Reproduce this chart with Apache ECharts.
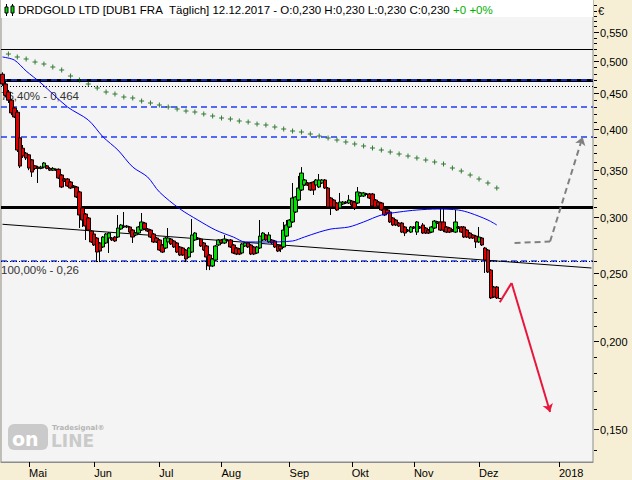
<!DOCTYPE html>
<html><head><meta charset="utf-8">
<script src="https://cdn.jsdelivr.net/npm/echarts@6/dist/echarts.min.js"></script>
<style>html,body{margin:0;padding:0;background:#f6efd6}#c{width:632px;height:480px}</style>
</head><body><div id="c"></div>
<script>
const FONT = '"Liberation Sans", Arial, sans-serif';
// ---- calendar ----
const startDate = '2017-04-18';
const lastTradeDate = '2017-12-12';
const holidays = ['2017-05-01', '2017-10-03'];
const futureDays = 31;
const monthNames = ['', 'Jan', 'Feb', 'Mär', 'Apr', 'Mai', 'Jun', 'Jul', 'Aug', 'Sep', 'Okt', 'Nov', 'Dez'];

// ---- OHLC (EUR) ----
const candleOpen = [.479,.464,.452,.440,.429,.423,.389,.376,.370,.368,.362,.355,.3535,.352,.3535,.355,.352,.350,.351,.351,.3445,.340,.340,.3367,.3323,.3312,.3259,.3092,.3032,.2993,.2868,.2840,.2803,.2758,.2722,.2758,.2803,.2803,.2812,.2812,.2887,.2915,.2906,.2906,.2877,.2831,.2849,.2877,.2944,.2887,.2877,.2840,.2803,.2785,.2740,.2713,.2767,.2794,.2776,.2758,.2722,.2713,.2695,.2634,.2677,.2785,.2803,.2794,.2758,.2731,.2651,.2558,.2608,.2740,.2785,.2758,.2785,.2785,.2740,.2713,.2704,.2669,.2731,.2758,.2740,.2722,.2669,.2713,.2785,.2831,.2767,.2785,.2776,.2740,.2731,.2722,.2821,.2906,.2954,.3052,.3174,.3280,.3334,.3356,.3356,.3367,.3334,.3312,.3356,.3389,.3301,.3195,.3174,.3143,.3092,.3133,.3153,.3143,.3164,.3153,.3143,.3216,.3216,.3237,.3237,.3237,.3174,.3153,.3143,.3082,.3072,.3052,.2993,.2973,.2944,.2944,.2906,.2877,.2858,.2906,.2858,.2906,.2925,.2896,.2877,.2858,.2896,.2944,.2954,.2954,.2906,.2896,.2877,.2858,.2906,.2906,.2906,.2877,.2849,.2831,.2821,.2767,.2803,.2713,.2695,.2524,.2388,.2388,.230];
const candleHigh = [.482,.467,.455,.442,.430,.426,.391,.380,.3714,.369,.363,.356,.355,.355,.3594,.356,.3535,.3535,.352,.352,.3456,.3411,.341,.3378,.3334,.3323,.327,.3102,.3042,.3002,.2877,.2849,.2812,.2767,.2821,.2849,.2858,.2812,.2821,.3022,.2935,.3052,.2925,.2915,.2887,.2858,.2915,.3042,.2954,.2896,.2887,.2849,.2812,.2794,.2749,.2812,.2896,.2803,.2785,.2767,.2731,.2722,.2704,.2722,.2983,.2858,.2812,.2803,.2767,.2740,.2660,.2625,.2740,.2794,.2794,.2831,.2794,.2794,.2749,.2722,.2713,.2758,.2767,.2767,.2749,.2731,.2731,.2973,.2858,.2840,.2858,.2794,.2785,.2749,.2740,.2954,.2973,.2983,.3356,.3216,.3434,.3535,.340,.3367,.3367,.3378,.340,.3456,.340,.340,.3312,.3206,.3184,.3153,.3248,.3164,.3164,.3227,.3174,.3164,.3312,.3259,.3259,.3248,.3248,.3248,.3184,.3164,.3153,.3092,.3082,.3062,.3002,.2983,.2954,.2954,.2915,.2887,.2915,.2915,.2963,.2915,.2944,.2906,.2887,.2915,.2973,.2963,.3092,.3092,.2915,.2906,.2887,.3072,.2915,.2915,.2915,.2887,.2858,.2840,.2831,.2906,.2812,.2722,.2704,.2532,.2396,.2396,.230];
const candleLow = [.461,.444,.436,.419,.415,.3714,.3524,.3642,.3618,.350,.3423,.350,.3356,.351,.352,.351,.349,.349,.349,.340,.3301,.3367,.3312,.329,.330,.3195,.2896,.2906,.2785,.2868,.2758,.2731,.2591,.2591,.2713,.2749,.2669,.2776,.2767,.2803,.2877,.2896,.2896,.2849,.2758,.2821,.2840,.2868,.2877,.2858,.2803,.2758,.2758,.2686,.2669,.2704,.2758,.2740,.2713,.2669,.2643,.2643,.2591,.2625,.2669,.2776,.2785,.2722,.2686,.2524,.2524,.2549,.2600,.2731,.2749,.2749,.2776,.2713,.2660,.2651,.2651,.2660,.2722,.2713,.2651,.2651,.2660,.2704,.2776,.2776,.2758,.2749,.2713,.2677,.2677,.2713,.2812,.2896,.2944,.3042,.3164,.3269,.3323,.3323,.3269,.3227,.3323,.3301,.3345,.329,.3092,.3022,.3092,.3062,.3082,.3122,.3133,.3133,.3112,.3072,.3133,.3206,.3206,.3227,.3184,.3102,.3092,.3102,.3062,.3012,.3032,.2944,.2915,.2915,.2906,.2849,.2821,.2858,.2849,.2887,.2831,.2887,.2840,.2840,.2840,.2849,.2887,.2935,.2868,.2858,.2849,.2849,.2858,.2849,.2887,.2849,.2803,.2803,.2794,.2794,.2713,.2758,.2731,.2500,.2500,.2296,.2304,.2296,.230];
const candleClose = [.464,.447,.440,.422,.4165,.3738,.3547,.3666,.3642,.3524,.3478,.352,.352,.3535,.3583,.352,.350,.352,.350,.3411,.3312,.3378,.3323,.3301,.3312,.3206,.3022,.2973,.2915,.2877,.2767,.2740,.2677,.2686,.2812,.2840,.2849,.2785,.2776,.2896,.2925,.2906,.2915,.2858,.2812,.2849,.2906,.2954,.2887,.2868,.2812,.2767,.2767,.2695,.2677,.2803,.2803,.2749,.2722,.2677,.2651,.2651,.2617,.2713,.2831,.2849,.2794,.2731,.2695,.2634,.2558,.2617,.2731,.2785,.2758,.2794,.2780,.2722,.2669,.2660,.2660,.2749,.2758,.2722,.2660,.2660,.2722,.2821,.2849,.2785,.2831,.2758,.2722,.2686,.2704,.2877,.2925,.2973,.3195,.3206,.3301,.3467,.3389,.3334,.3280,.3280,.3389,.3389,.3389,.3301,.3102,.3102,.3102,.3072,.3153,.3153,.3143,.3174,.3122,.3092,.3259,.3248,.3248,.3232,.3195,.3112,.3102,.3112,.3072,.3022,.3042,.2954,.2925,.2925,.2915,.2858,.2849,.2868,.2906,.2896,.2954,.2896,.2849,.2849,.2849,.2906,.2963,.2954,.2877,.2877,.2858,.2858,.2868,.2954,.2896,.2858,.2812,.2812,.2803,.2803,.2767,.2812,.2740,.2608,.2508,.2304,.2311,.2304,.230];

// ---- moving average (blue) sampled at trading-day index ----
const maIdx = [0,4,8,13,22,29,34,39,44,49,53,60,66,72,78,82,89,98,102,107,111,117,122,128,134,140,147,154,158,164,167];
const maVal = [.5068,.5018,.4841,.4654,.4303,.4124,.3901,.3738,.3536,.3423,.3259,.3082,.2973,.2877,.2812,.2767,.2767,.2776,.2812,.2858,.2887,.2906,.2954,.3022,.3052,.3072,.3082,.3072,.3042,.2973,.2925];
// ---- long average (green crosses), every 3rd day starting at index 2 ----
const longAvgVal = [.5118,.5068,.5035,.4986,.4953,.4905,.4857,.4763,.4700,.4639,.4579,.4519,.4489,.4446,.4432,.4389,.4361,.4331,.4303,.4275,.4247,.4233,.4206,.4178,.4151,.4138,.4111,.4097,.4070,.4057,.4031,.4004,.3978,.3965,.3940,.3914,.3889,.3863,.3838,.3813,.3788,.3763,.3738,.3714,.3690,.3666,.3642,.3618,.3594,.3571,.3524,.3490,.3445,.3400,.3356,.3301];
// ---- drawn lines ----
const trendIdx = [0, 199];
const trendVal = [0.2932, 0.2541];
const thickLevels = [0.4705, 0.3087];
const thinLevels = [0.5203];
const dashedLevels = [0.6068, 0.4732, 0.4317, 0.3914, 0.2589];
const fibLevels = [0.464, 0.2608];
const fibLabels = ['76,40% - 0,464', '100,00% - 0,26'];
const redArrowIdx = [168, 172, 185];
const redArrowVal = [0.2272, 0.2420, 0.1586];
const grayArrowIdx = [173, 185, 196];
const grayArrowVal = [0.2758, 0.2771, 0.3901];
// ---- axis ticks ----
const yLabelVals = [0.15,0.20,0.25,0.30,0.35,0.40,0.45,0.50,0.55];
const yMinorVals = [0.14,0.15,0.16,0.17,0.18,0.19,0.20,0.21,0.22,0.23,0.24,0.25,0.26,0.27,0.28,0.29,0.30,0.31,0.32,0.33,0.34,0.35,0.36,0.37,0.38,0.39,0.40,0.41,0.42,0.43,0.44,0.45,0.46,0.47,0.48,0.49,0.50,0.51,0.52,0.53,0.54,0.55,0.56,0.57,0.58,0.59,0.60];
const yMin = 0.1347, yMax = 0.6107;

// build categories
function ymd(d){return d.toISOString().slice(0,10);}
const cats = [];
{
  const d = new Date(startDate + 'T00:00:00Z');
  while (true) {
    const s = ymd(d), wd = d.getUTCDay();
    if (wd !== 0 && wd !== 6 && holidays.indexOf(s) < 0) cats.push(s);
    if (s === lastTradeDate) break;
    d.setUTCDate(d.getUTCDate() + 1);
  }
  for (let k = 0; k < futureDays; k++) { d.setUTCDate(d.getUTCDate() + 1); cats.push(ymd(d)); }
}
const isMonthStart = i => i > 0 && cats[i].slice(5,7) !== cats[i-1].slice(5,7);
const fmt = v => v.toFixed(3).replace('.', ',');

const candleData = candleOpen.map((o, i) => [o, candleClose[i], candleLow[i], candleHigh[i]]);
const maData = maIdx.map((x, i) => [x, maVal[i]]);
const longAvgData = longAvgVal.map((v, k) => [2 + 3 * k, v]);
const last = candleOpen.length - 1;

const chart = echarts.init(document.getElementById('c'), null, {renderer: 'svg'});
const option = {
  animation: false,
  backgroundColor: '#f6efd6',
  textStyle: {fontFamily: FONT},
  grid: {left: 1, width: 592, top: 0, bottom: 18, show: true, backgroundColor: '#f4f4f4', borderColor: '#8c8c8c', borderWidth: 1},
  xAxis: {
    type: 'category', data: cats, boundaryGap: true,
    axisLine: {show: true, lineStyle: {color: '#8c8c8c'}},
    axisTick: {show: true, alignWithLabel: true, interval: (i) => isMonthStart(i), length: 5, lineStyle: {color: '#000'}},
    axisLabel: {interval: (i) => isMonthStart(i), align: 'left', margin: 5, fontSize: 11, color: '#000', fontFamily: FONT,
      formatter: v => { const m = +v.slice(5,7); return m === 1 ? v.slice(0,4) : monthNames[m]; }},
    splitLine: {show: false}
  },
  yAxis: {
    type: 'log', logBase: 10, min: yMin, max: yMax, position: 'right',
    axisLine: {show: false}, axisTick: {show: false}, axisLabel: {show: false}, splitLine: {show: false}
  },
  series: [
    {
      type: 'line', name: 'trend', data: trendIdx.map((x, i) => [x, trendVal[i]]), symbol: 'none', z: 1,
      lineStyle: {color: '#000', width: 1},
      markLine: {
        silent: true, symbol: 'none', z: 1, animation: false,
        data: [
          ...thickLevels.map(v => ({yAxis: v, lineStyle: {color: '#000', width: 3, type: 'solid'}, label: {show: false}})),
          ...thinLevels.map(v => ({yAxis: v, lineStyle: {color: '#000', width: 1, type: 'solid'}, label: {show: false}})),
          ...dashedLevels.map(v => ({yAxis: v, lineStyle: {color: '#1d3cf5', width: 1.5, type: [6, 4]}, label: {show: false}})),
          ...fibLevels.map((v, i) => ({yAxis: v, lineStyle: {color: '#000', width: 1, type: [1, 2]},
            label: {show: true, position: 'insideStartBottom', formatter: fibLabels[i], color: '#333', fontSize: 11.5, fontFamily: FONT, distance: [0, 3]}}))
        ]
      }
    },
    {
      type: 'candlestick', name: 'DRDGOLD', data: candleData, barWidth: 4, z: 3,
      itemStyle: {color: '#00e000', color0: '#e00000', borderColor: '#000', borderColor0: '#000', borderWidth: 1}
    },
    {
      type: 'line', name: 'MA', data: maData, symbol: 'none', smooth: 0.3, z: 4,
      lineStyle: {color: '#0000ff', width: 1}
    },
    {
      type: 'scatter', name: 'longAvg', data: longAvgData, z: 4,
      symbol: 'path://M2,0L3,0L3,2L5,2L5,3L3,3L3,5L2,5L2,3L0,3L0,2L2,2Z', symbolSize: 5,
      itemStyle: {color: '#005a00'}
    },
    {
      type: 'line', name: 'down', z: 5,
      data: [
        {value: [redArrowIdx[0], redArrowVal[0]], symbol: 'none'},
        {value: [redArrowIdx[1], redArrowVal[1]], symbol: 'rect', symbolSize: 5, itemStyle: {color: '#1f7a1f', borderWidth: 0}}
      ],
      lineStyle: {color: '#e8163c', width: 2},
      markLine: {silent: true, symbol: ['none', 'arrow'], symbolSize: 8, z: 5,
        lineStyle: {color: '#e8163c', width: 2, type: 'solid'}, label: {show: false},
        data: [[{coord: [redArrowIdx[1], redArrowVal[1]]}, {coord: [redArrowIdx[2], redArrowVal[2]]}]]}
    },
    {
      type: 'line', name: 'up', z: 5,
      data: [
        {value: [grayArrowIdx[0], grayArrowVal[0]], symbol: 'none'},
        {value: [grayArrowIdx[1], grayArrowVal[1]], symbol: 'rect', symbolSize: 5, itemStyle: {color: '#fbfbd0', borderWidth: 0}}
      ],
      lineStyle: {color: '#808080', width: 2, type: [6, 4]},
      markLine: {silent: true, symbol: ['none', 'arrow'], symbolSize: 8, z: 5,
        lineStyle: {color: '#808080', width: 2, type: [6, 4]}, label: {show: false},
        data: [[{coord: [grayArrowIdx[1], grayArrowVal[1]]}, {coord: [grayArrowIdx[2], grayArrowVal[2]]}]]}
    }
  ]
};
chart.setOption(option);

// graphics (header, y-axis ticks/labels, watermark)
const g = [];
g.push({type: 'rect', z: 1, shape: {x: 1, y: 0, width: 592, height: 17}, style: {fill: '#ffffff'}});
// watermark
g.push({type: 'rect', z: 1, shape: {x: 8, y: 424, width: 40, height: 26, r: 6}, style: {fill: '#cacaca'}});
g.push({type: 'text', z: 1, style: {x: 12, y: 429, text: 'on', fill: '#ffffff', font: 'bold 19px "DejaVu Sans"'}});
g.push({type: 'text', z: 1, style: {x: 51, y: 432, text: 'LINE', fill: '#cacaca', font: 'bold 17px "DejaVu Sans"'}});
g.push({type: 'text', z: 1, style: {x: 52, y: 424, text: 'Tradesignal®', fill: '#b4b4b4', font: 'bold 7px "DejaVu Sans"'}});
// header
const hdr = 'DRDGOLD LTD [DUB1 FRA\u00a0 Täglich] 12.12.2017 - O:' + fmt(candleOpen[last]) + ' H:' + fmt(candleHigh[last]) +
  ' L:' + fmt(candleLow[last]) + ' C:' + fmt(candleClose[last]) + ' ';
g.push({type: 'rect', z: 20, shape: {x: 1, y: 1, width: 470, height: 17}, style: {fill: '#ffffff'}});
g.push({type: 'text', z: 21, style: {x: 18, y: 4, text: '{a|' + hdr + '}{g|+0 +0%}', font: '11.5px ' + FONT,
  rich: {a: {fill: '#000', fontSize: 11.5, fontFamily: FONT}, g: {fill: '#00b000', fontSize: 11.5, fontFamily: FONT}}}});
// header icon
g.push({type: 'line', z: 21, shape: {x1: 6.5, y1: 4, x2: 6.5, y2: 16}, style: {stroke: '#000'}});
g.push({type: 'rect', z: 22, shape: {x: 5, y: 7, width: 3, height: 6}, style: {fill: '#00e000', stroke: '#000', lineWidth: 1}});
g.push({type: 'line', z: 21, shape: {x1: 12.5, y1: 4, x2: 12.5, y2: 16}, style: {stroke: '#000'}});
g.push({type: 'rect', z: 22, shape: {x: 11, y: 6, width: 3, height: 7}, style: {fill: '#00e000', stroke: '#000', lineWidth: 1}});
// currency
g.push({type: 'text', z: 5, style: {x: 598, y: 5, text: '€', fill: '#000', font: '11px ' + FONT}});
// y ticks and labels
yMinorVals.forEach(v => {
  const y = Math.round(chart.convertToPixel({yAxisIndex: 0}, v)) + 0.5;
  g.push({type: 'line', z: 5, shape: {x1: 594, y1: y, x2: 597, y2: y}, style: {stroke: '#000', lineWidth: 1}});
});
yLabelVals.forEach(v => {
  const y = Math.round(chart.convertToPixel({yAxisIndex: 0}, v)) + 0.5;
  g.push({type: 'line', z: 5, shape: {x1: 594, y1: y, x2: 599, y2: y}, style: {stroke: '#000', lineWidth: 1}});
  g.push({type: 'text', z: 5, style: {x: 600, y: y, text: v.toFixed(3).replace('.', ','), fill: '#000', font: '11px ' + FONT, verticalAlign: 'middle'}});
});
chart.setOption({graphic: g});
</script></body></html>
